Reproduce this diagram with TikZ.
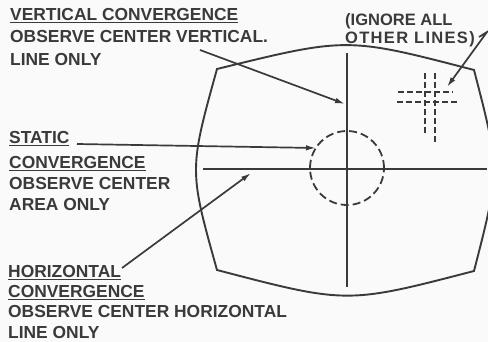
\documentclass[tikz,border=0pt]{standalone}
\usepackage{fontspec}
\setmainfont{Liberation Sans}
\usetikzlibrary{arrows.meta}
\definecolor{ink}{HTML}{3A3A3A}

\begin{document}
\begin{tikzpicture}[
    x=1pt, y=-1pt,
    note/.style={anchor=north west, inner sep=0pt, align=left, text=ink,
                 font=\fontsize{17.4}{22}\selectfont\bfseries},
    leader/.style={draw=ink, line width=1.7pt, -{Latex[length=10pt,width=5.5pt]}},
    screen/.style={draw=ink, line width=1.9pt},
    hair/.style={draw=ink, line width=1.3pt},
    marker/.style={draw=ink, line width=1.5pt, dash pattern=on 6pt off 3pt}
  ]
    \useasboundingbox[fill=black!2] (0,0) rectangle (488,342);

    % picture tube face
    \coordinate (tl) at (217,69);
    \coordinate (tr) at (474,70);
    \coordinate (br) at (474,271);
    \coordinate (bl) at (217,270);
    \draw[screen] (tl) .. controls (347,37) .. (tr) .. controls (500,170) .. (br)
                  .. controls (347,304) .. (bl) .. controls (189,170) .. (tl) -- cycle;
    \coordinate (top) at (347,53);
    \coordinate (bot) at (347,287);
    \coordinate (lft) at (203,169);
    \coordinate (rgt) at (487,169);
    \draw[hair] (top) -- (bot);
    \draw[hair] (lft) -- (rgt);
    \draw[marker, line width=1.8pt, dash pattern=on 8pt off 4pt] (347,168) circle[radius=37pt];

    % other lines
    \draw[marker] (425,73) -- (425,135);
    \draw[marker] (435,73) -- (435,142);
    \draw[marker] (398,92) -- (453,92);
    \draw[marker] (397,102) -- (459,102);

    % captions
    \node[note, font=\fontsize{17.4}{22.5}\selectfont\bfseries] (vert) at (10,8)
        {\underline{VERTICAL CONVERGENCE}\\OBSERVE CENTER VERTICAL.\\LINE ONLY};
    \node[note, font=\fontsize{16.5}{18}\selectfont\bfseries] (ignore) at (345,13)
        {(IGNORE ALL\\\addfontfeatures{LetterSpace=8}OTHER LINES)};
    \node[note] (static) at (9,131)
        {\underline{STATIC}\\[3pt]\underline{CONVERGENCE}\\[-1pt]OBSERVE CENTER\\[-1pt]AREA ONLY};
    \node[note, font=\fontsize{17.4}{20.3}\selectfont\bfseries] (horiz) at (8,265)
        {\underline{HORIZONTAL}\\\underline{CONVERGENCE}\\OBSERVE CENTER HORIZONTAL\\LINE ONLY};

    % leaders
    \coordinate (vfrom) at (200,50);
    \coordinate (vto) at (345,104);
    \coordinate (sfrom) at (77,144);
    \coordinate (sto) at (316,148);
    \coordinate (hfrom) at (122,268);
    \coordinate (hto) at (251,173);
    \coordinate (ifrom) at (479,37);
    \coordinate (ibend) at (487,32);
    \coordinate (ito) at (447,87);
    \draw[leader] (vfrom) -- (vto);
    \draw[leader] (sfrom) -- (sto);
    \draw[leader] (hfrom) -- (hto);
    \draw[leader] (ifrom) -- (ibend) -- (ito);
  \end{tikzpicture}
\end{document}
